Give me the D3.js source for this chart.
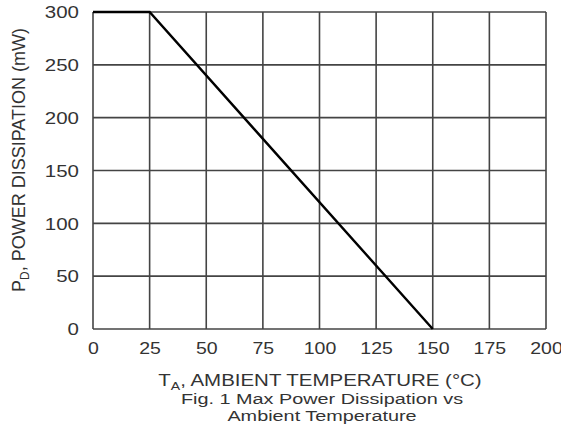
<!DOCTYPE html>
<html>
<head>
<meta charset="utf-8">
<script src="https://cdn.jsdelivr.net/npm/d3@7"></script>
<style>
  body { margin: 0; background: #fff; }
  text { font-family: "Liberation Sans", Arial, sans-serif; fill: #333; }
</style>
</head>
<body>
<svg id="chart"></svg>
<script>
// derating curve
var temps = [0, 25, 150];
var power = [300, 300, 0];

var xTicks = [0, 25, 50, 75, 100, 125, 150, 175, 200];
var yTicks = [0, 50, 100, 150, 200, 250, 300];

var width = 561;
var height = 434;
var pLeft = 93, pTop = 12, pRight = 546, pBottom = 329;
var stretch = 1.28;

var svg = d3.select("#chart")
            .attr("width", width)
            .attr("height", height);

var xScale = d3.scaleLinear()
              .domain([0, 200])
              .range([pLeft, pRight]);

var yScale = d3.scaleLinear()
              .domain([0, 300])
              .range([pBottom, pTop]);

// grid lines
svg.selectAll(".vgrid")
   .data(xTicks)
   .enter()
   .append("line")
   .attr("class", "vgrid")
   .attr("x1", function(d){ return xScale(d); })
   .attr("x2", function(d){ return xScale(d); })
   .attr("y1", pTop)
   .attr("y2", pBottom)
   .attr("stroke", "#444")
   .attr("stroke-width", 1.6);

svg.selectAll(".hgrid")
   .data(yTicks)
   .enter()
   .append("line")
   .attr("class", "hgrid")
   .attr("x1", pLeft)
   .attr("x2", pRight)
   .attr("y1", function(d){ return yScale(d); })
   .attr("y2", function(d){ return yScale(d); })
   .attr("stroke", "#444")
   .attr("stroke-width", 1.6);

// axes, only used for the labels
var xAxis = d3.axisBottom(xScale).tickValues(xTicks).tickSize(0).tickPadding(0);
var yAxis = d3.axisLeft(yScale).tickValues(yTicks).tickSize(0).tickPadding(0);

var gx = svg.append("g")
   .attr("transform", "translate(0," + pBottom + ")")
   .call(xAxis);
gx.select(".domain").remove();
gx.selectAll("text")
  .attr("y", 0)
  .attr("dy", 0)
  .attr("transform", "translate(0,25) scale(1.22,1)")
  .attr("font-size", 16)
  .attr("fill", "#333");

var gy = svg.append("g")
   .attr("transform", "translate(" + pLeft + ",0)")
   .call(yAxis);
gy.select(".domain").remove();
gy.selectAll("text")
  .attr("x", 0)
  .attr("dy", "0.36em")
  .attr("transform", "translate(-14,0) scale(" + stretch + ",1)")
  .attr("font-size", 16)
  .attr("fill", "#333");

// the curve
var line = d3.line()
             .x(function(d){ return xScale(d.t); })
             .y(function(d){ return yScale(d.p); });

var pts = temps.map(function(t, i){
  return {t: t, p: power[i]};
});

svg.append("path")
   .datum(pts)
   .attr("d", line)
   .attr("fill", "none")
   .attr("stroke", "#000")
   .attr("stroke-width", 2.4);

// y label
var ylab = svg.append("text")
   .attr("transform", "translate(25,160) rotate(-90)")
   .attr("text-anchor", "middle")
   .attr("font-size", 18);
ylab.append("tspan").text("P");
ylab.append("tspan").attr("font-size", 12).attr("dy", 4).text("D");
ylab.append("tspan").attr("dy", -4).text(", POWER DISSIPATION (mW)");

// x label and caption
var xlab = svg.append("text")
   .attr("transform", "translate(320,386) scale(" + stretch + ",1)")
   .attr("text-anchor", "middle")
   .attr("font-size", 16);
xlab.append("tspan").text("T");
xlab.append("tspan").attr("font-size", 11).attr("dy", 4).text("A");
xlab.append("tspan").attr("dy", -4).text(", AMBIENT TEMPERATURE (°C)");

svg.append("text")
   .attr("transform", "translate(322,404) scale(" + stretch + ",1)")
   .attr("text-anchor", "middle")
   .attr("font-size", 15.5)
   .text("Fig. 1  Max Power Dissipation vs");

svg.append("text")
   .attr("transform", "translate(322,421) scale(" + stretch + ",1)")
   .attr("text-anchor", "middle")
   .attr("font-size", 15.5)
   .text("Ambient Temperature");
</script>
</body>
</html>
